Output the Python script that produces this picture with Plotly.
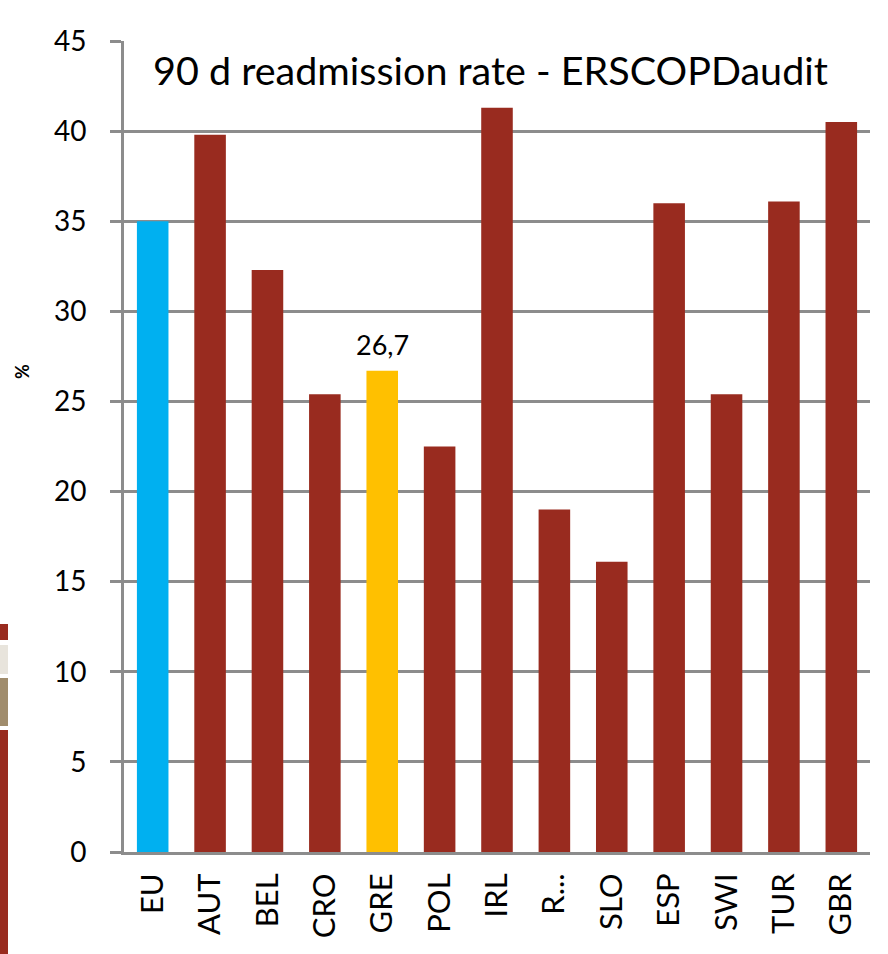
import plotly.graph_objects as go

categories = ["EU", "AUT", "BEL", "CRO", "GRE", "POL", "IRL", "R...", "SLO", "ESP", "SWI", "TUR", "GBR"]
values = [35.0, 39.8, 32.3, 25.4, 26.7, 22.5, 41.3, 19.0, 16.1, 36.0, 25.4, 36.1, 40.5]
bar_colors = ["#00b0f0", "#992b1f", "#992b1f", "#992b1f", "#ffc000", "#992b1f", "#992b1f",
              "#992b1f", "#992b1f", "#992b1f", "#992b1f", "#992b1f", "#992b1f"]
label_text = ["", "", "", "", "26,7", "", "", "", "", "", "", "", ""]
y_ticks = [0, 5, 10, 15, 20, 25, 30, 35, 40, 45]
title_text = "90 d readmission rate - ERSCOPDaudit"
y_title = "%"

FONT = "Lato"
GRID = "#8c8c8c"
L, R, T, B = 124, 18, 41, 102
PW, PH = 888 - L - R, 954 - T - B

fig = go.Figure()
fig.add_trace(go.Bar(
    x=categories, y=values,
    marker=dict(color=bar_colors, line=dict(width=0)),
    hoverinfo="x+y",
))

fig.update_layout(
    width=888, height=954,
    margin=dict(l=L, r=R, t=T, b=B, autoexpand=False),
    paper_bgcolor="white", plot_bgcolor="white",
    bargap=0.45,
    showlegend=False,
    font=dict(family=FONT, color="#000000"),
)

fig.update_xaxes(
    showline=True, linecolor=GRID, linewidth=3,
    tickangle=-90, tickfont=dict(family=FONT, size=31, color="#000000"),
    ticks="", showgrid=False, automargin=False, ticklabelstandoff=6,
)
fig.update_yaxes(
    range=[0, 45], tickvals=y_ticks, ticktext=[str(v) for v in y_ticks],
    showgrid=True, gridcolor=GRID, gridwidth=3,
    showline=True, linecolor=GRID, linewidth=3,
    ticks="outside", ticklen=11, tickwidth=3, tickcolor=GRID,
    tickfont=dict(family=FONT, size=28, color="#000000"),
    ticklabelstandoff=18,
    zeroline=False, automargin=False,
)

# data labels
for cat, val, txt in zip(categories, values, label_text):
    if txt:
        fig.add_annotation(x=cat, y=val, text=txt, showarrow=False,
                           xanchor="center", yanchor="bottom", yshift=8,
                           font=dict(family=FONT, size=27, color="#000000"))

fig.add_annotation(
    text=title_text, xref="paper", yref="paper", x=(490 - L) / PW, y=(954 - B - 70) / PH,
    xanchor="center", yanchor="middle", showarrow=False,
    font=dict(family=FONT, size=39.5, color="#000000"),
)
fig.add_annotation(
    text="<b>" + y_title + "</b>", xref="paper", yref="paper", x=(22 - L) / PW, y=(954 - B - 372) / PH,
    xanchor="center", yanchor="middle", showarrow=False, textangle=-90,
    font=dict(family=FONT, size=18, color="#000000"),
)

# cropped legend remnants at the left edge
strips = [(624, 640, "#992b1f"), (645, 674, "#e8e4dc"), (678, 726, "#a08c6c"), (730, 954, "#992b1f")]
for y0, y1, c in strips:
    fig.add_shape(type="rect", xref="paper", yref="paper",
                  x0=-L / PW, x1=(8 - L) / PW,
                  y0=(954 - B - y1) / PH, y1=(954 - B - y0) / PH,
                  fillcolor=c, line=dict(width=0), layer="above")

fig.write_html("out.html", config={"displayModeBar": False},
               post_script="document.body.style.margin='0';document.body.style.overflow='hidden';")
